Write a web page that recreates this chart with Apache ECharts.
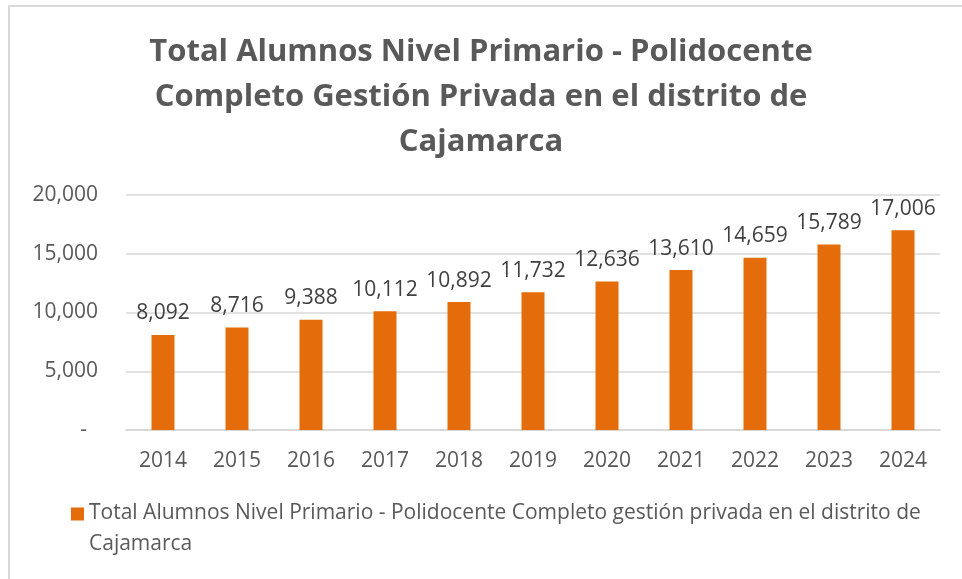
<!DOCTYPE html>
<html>
<head>
<meta charset="utf-8">
<title>Total Alumnos Nivel Primario</title>
<script src="https://cdn.jsdelivr.net/npm/echarts@6/dist/echarts.min.js"></script>
<style>
    body { margin: 0; background: #fff; }
    #marco { position: absolute; left: 8px; top: 5px; width: 1000px; height: 600px;
             border-left: 2px solid #d9d9d9; border-top: 2px solid #d9d9d9; }
    #grafico { position: absolute; left: 0; top: 0; width: 962px; height: 579px; }
</style>
</head>
<body>
<div id="marco"></div>
<div id="grafico"></div>
<script>
//datos del grafico
var anios = ['2014', '2015', '2016', '2017', '2018', '2019', '2020', '2021', '2022', '2023', '2024'];
var alumnos = [8092, 8716, 9388, 10112, 10892, 11732, 12636, 13610, 14659, 15789, 17006];
var nombreSerie = 'Total Alumnos Nivel Primario - Polidocente Completo gestión privada en el distrito de Cajamarca';
var titulo = 'Total Alumnos Nivel Primario - Polidocente\nCompleto Gestión Privada en el distrito de\nCajamarca';

//formato con comas
function miles(v) {
    return v.toString().replace(/\B(?=(\d{3})+(?!\d))/g, ',');
}

var chart = echarts.init(document.getElementById('grafico'));
var fuente = '"Open Sans", sans-serif';

option = {
    animation: false,
    title: {
        text: titulo,
        left: 'center',
        top: 25,
        textStyle: {
            fontFamily: fuente,
            fontSize: 31,
            fontWeight: 'bold',
            color: '#595959',
            lineHeight: 45
        }
    },
    legend: {
        left: 66,
        top: 493,
        itemWidth: 13,
        itemHeight: 43,
        itemGap: 4,
        //cuadrado arriba para que quede junto a la primera linea
        icon: 'path://M0,0L13,0L13,13L0,13Z M0,43',
        data: [nombreSerie],
        formatter: function () {
            return 'Total Alumnos Nivel Primario - Polidocente Completo gestión privada en el distrito de\nCajamarca';
        },
        textStyle: {
            fontFamily: fuente,
            fontSize: 21,
            color: '#595959',
            lineHeight: 31
        }
    },
    grid: {
        left: 126,
        right: 22,
        top: 195,
        bottom: 149
    },
    xAxis: {
        type: 'category',
        data: anios,
        axisTick: {show: false},
        axisLine: {lineStyle: {color: '#d9d9d9', width: 2}},
        axisLabel: {
            margin: 21,
            fontFamily: fuente,
            fontSize: 21,
            color: '#595959'
        }
    },
    yAxis: {
        type: 'value',
        min: 0,
        max: 20000,
        interval: 5000,
        axisLine: {show: false},
        axisTick: {show: false},
        splitLine: {lineStyle: {color: '#d9d9d9', width: 1.5}},
        axisLabel: {
            margin: 28,
            fontFamily: fuente,
            fontSize: 21,
            color: '#595959',
            formatter: function (v) {
                return v === 0 ? '-  ' : miles(v);
            }
        }
    },
    series: [
        {
            name: nombreSerie,
            type: 'bar',
            data: alumnos,
            barWidth: 23,
            itemStyle: {color: '#E46C0A'},
            label: {
                show: true,
                position: 'top',
                distance: 11,
                fontFamily: fuente,
                fontSize: 21,
                color: '#404040',
                formatter: function (p) {
                    return miles(p.value);
                }
            }
        }
    ]
};

chart.setOption(option);
</script>
</body>
</html>
